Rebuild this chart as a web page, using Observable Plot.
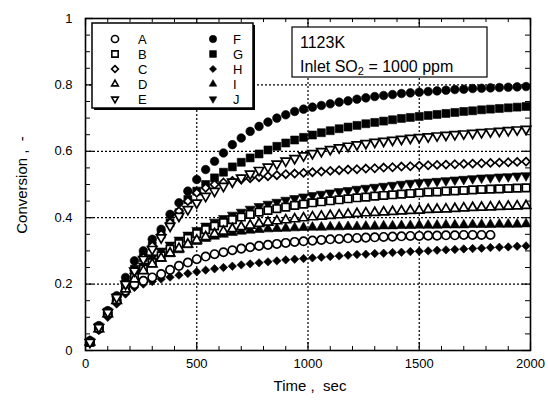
<!DOCTYPE html>
<html><head><meta charset="utf-8">
<script src="https://cdn.jsdelivr.net/npm/d3@7"></script>
<script src="https://cdn.jsdelivr.net/npm/@observablehq/plot@0.6"></script>
<style>
body{margin:0;background:#fff;}
#chart{width:548px;height:405px;}
svg{font-family:"Liberation Sans",Arial,Helvetica,sans-serif;}
</style></head><body><div id="chart"></div>
<script>
// ---- data ----
const times = [20,60,100,140,180,220,260,300,340,380,420,460,500,540,580,620,660,700,740,780,820,860,900,940,980,1020,1060,1100,1140,1180,1220,1260,1300,1340,1380,1420,1460,1500,1540,1580,1620,1660,1700,1740,1780,1820,1860,1900,1940,1980];
const seriesNames = ["A","B","C","D","E","F","G","H","I","J"];
const valuesA = [.025,.065,.11,.15,.18,.2,.21,.22,.23,.243,.255,.265,.275,.283,.29,.296,.302,.307,.311,.315,.318,.321,.324,.327,.329,.331,.333,.335,.336,.338,.339,.34,.341,.342,.343,.344,.345,.345,.346,.346,.347,.347,.348,.348,.348,.348];
const valuesB = [.025,.07,.115,.155,.19,.22,.245,.265,.285,.305,.322,.338,.352,.364,.375,.385,.394,.402,.41,.417,.422,.427,.432,.437,.441,.445,.448,.451,.454,.457,.46,.462,.465,.467,.469,.471,.473,.475,.477,.478,.48,.481,.482,.484,.485,.486,.487,.488,.489,.49];
const valuesC = [.025,.07,.115,.16,.2,.24,.28,.315,.35,.385,.42,.45,.475,.49,.5,.506,.511,.515,.519,.522,.525,.528,.531,.533,.535,.537,.539,.541,.543,.545,.546,.548,.549,.551,.552,.554,.555,.557,.558,.559,.56,.561,.562,.563,.564,.565,.566,.567,.568,.569];
const valuesD = [.025,.065,.11,.15,.185,.215,.24,.26,.278,.293,.307,.32,.332,.342,.351,.359,.366,.372,.377,.382,.386,.39,.393,.396,.399,.402,.404,.406,.408,.41,.412,.414,.415,.417,.418,.42,.421,.422,.424,.425,.426,.427,.429,.43,.431,.432,.433,.434,.435,.436];
const valuesE = [.025,.07,.115,.16,.2,.24,.275,.305,.34,.375,.405,.425,.445,.465,.48,.495,.508,.52,.532,.543,.553,.562,.571,.579,.587,.594,.6,.606,.611,.616,.62,.624,.628,.631,.634,.637,.64,.642,.644,.647,.649,.651,.653,.655,.657,.659,.661,.663,.665,.667];
const valuesF = [.03,.075,.12,.165,.22,.27,.3,.335,.365,.41,.445,.48,.515,.545,.57,.595,.62,.64,.66,.675,.688,.7,.71,.72,.727,.733,.738,.743,.748,.752,.757,.761,.765,.768,.771,.774,.776,.778,.78,.782,.784,.786,.787,.789,.79,.791,.792,.793,.794,.795];
const valuesG = [.025,.07,.115,.16,.2,.245,.28,.315,.35,.385,.415,.455,.48,.5,.52,.537,.553,.567,.58,.592,.604,.615,.625,.634,.642,.649,.656,.662,.668,.673,.678,.683,.687,.691,.695,.699,.702,.705,.708,.711,.714,.717,.72,.722,.725,.727,.729,.731,.733,.735];
const valuesH = [.02,.06,.1,.14,.17,.19,.2,.208,.215,.221,.227,.232,.237,.242,.246,.25,.254,.258,.261,.264,.267,.27,.273,.275,.277,.279,.281,.283,.285,.287,.289,.29,.292,.293,.295,.296,.298,.299,.3,.302,.303,.304,.306,.307,.308,.31,.311,.312,.314,.315];
const valuesI = [.025,.065,.11,.15,.185,.215,.24,.26,.277,.291,.303,.318,.328,.337,.344,.35,.355,.359,.362,.364,.366,.367,.368,.369,.37,.371,.371,.372,.372,.373,.373,.374,.374,.375,.375,.376,.376,.377,.377,.377,.378,.378,.378,.379,.379,.379,.38,.38,.38,.381];
const valuesJ = [.025,.07,.115,.155,.195,.225,.255,.28,.3,.318,.333,.348,.362,.375,.387,.398,.408,.417,.426,.434,.441,.447,.453,.458,.463,.467,.471,.475,.479,.482,.486,.489,.492,.495,.498,.501,.504,.506,.508,.51,.512,.514,.516,.518,.52,.521,.523,.524,.526,.527];
const xTickLabels = [0,500,1000,1500,2000];
const yTickLabels = [0,0.2,0.4,0.6,0.8,1];
const xGrid = [500,1000,1500];
const yGrid = [0.2,0.4,0.6,0.8];
const xMinor = [100,200,300,400,600,700,800,900,1100,1200,1300,1400,1600,1700,1800,1900];
const yMinor = [0.05,0.1,0.15,0.25,0.3,0.35,0.45,0.5,0.55,0.65,0.7,0.75,0.85,0.9,0.95];
const annotationLines = ["1123K", "Inlet SO", "2", " = 1000 ppm"];

// ---- styles ----
const styleOf = {
  A:{symbol:"circle", open:true, r:4.2, rotate:0, legendScale:0.85},
  B:{symbol:"square", open:true, r:4.2, rotate:0, legendScale:0.85},
  C:{symbol:"diamond2", open:true, r:3.6, rotate:0, legendScale:0.85},
  D:{symbol:"triangle", open:true, r:3.5, rotate:0, legendScale:0.7},
  E:{symbol:"triangle", open:true, r:3.5, rotate:180, legendScale:0.7},
  F:{symbol:"circle", open:false, r:4.3, rotate:0, legendScale:0.85},
  G:{symbol:"square", open:false, r:4.5, rotate:0, legendScale:0.85},
  H:{symbol:"diamond2", open:false, r:3.8, rotate:0, legendScale:0.85},
  I:{symbol:"triangle", open:false, r:3.7, rotate:0, legendScale:0.75},
  J:{symbol:"triangle", open:false, r:3.7, rotate:180, legendScale:0.75}
};
const valueLists = {A:valuesA,B:valuesB,C:valuesC,D:valuesD,E:valuesE,F:valuesF,G:valuesG,H:valuesH,I:valuesI,J:valuesJ};

const drawOrder = ["F","G","J","I","H","A","B","C","D","E"];
const dotMarks = drawOrder.map(s => {
  const st = styleOf[s];
  const data = valueLists[s].map((v,i) => ({t: times[i], v, s}));
  return Plot.dot(data, {
    x:"t", y:"v", symbol: () => st.symbol, r: st.r, rotate: st.rotate,
    fill: st.open ? "white" : "black", stroke:"black",
    strokeWidth: st.open ? 1.7 : 0.6
  });
});

const W = 445, H = 332;
const plot = Plot.plot({
  width:548, height:405,
  marginLeft:85, marginRight:18, marginTop:18, marginBottom:55,
  style:{fontFamily:"'Liberation Sans', Arial, sans-serif", background:"white", color:"black"},
  x:{domain:[0,2000]},
  y:{domain:[0,1]},
  symbol:{type:"identity"},
  marks:[
    Plot.ruleX(xGrid, {x:d=>d, stroke:"black", strokeWidth:1.2, strokeDasharray:"2,2"}),
    Plot.ruleY(yGrid, {y:d=>d, stroke:"black", strokeWidth:1.2, strokeDasharray:"2,2"}),
    // minor ticks inside
    Plot.tickX(xMinor, {x:d=>d, insetTop:H-4, stroke:"black", strokeWidth:1}),
    Plot.tickX(xMinor, {x:d=>d, insetBottom:H-4, stroke:"black", strokeWidth:1}),
    Plot.tickY(yMinor, {y:d=>d, insetRight:W-5, stroke:"black", strokeWidth:1}),
    Plot.tickY(yMinor, {y:d=>d, insetLeft:W-5, stroke:"black", strokeWidth:1}),
    // major ticks inside
    Plot.tickX(xTickLabels, {x:d=>d, insetTop:H-8, stroke:"black", strokeWidth:1.2}),
    Plot.tickX(xTickLabels, {x:d=>d, insetBottom:H-8, stroke:"black", strokeWidth:1.2}),
    Plot.tickY(yTickLabels, {y:d=>d, insetRight:W-8, stroke:"black", strokeWidth:1.2}),
    Plot.tickY(yTickLabels, {y:d=>d, insetLeft:W-8, stroke:"black", strokeWidth:1.2}),
    ...dotMarks,
    Plot.frame({stroke:"black", strokeWidth:1.6}),
    Plot.axisX(xTickLabels, {anchor:"bottom", tickSize:0, tickPadding:8, fontSize:13, label:null, tickFormat:d=>String(d)}),
    Plot.axisY(yTickLabels, {anchor:"left", tickSize:0, tickPadding:13, fontSize:13, label:null, tickFormat:d=>String(d)})
  ]
});
document.getElementById("chart").appendChild(plot);

// ---- axis titles, legend and annotation ----
const svg = d3.select(plot);
svg.append("text").attr("x",310).attr("y",391).attr("text-anchor","middle")
  .attr("font-size",15).attr("fill","black").text("Time ,  sec");
svg.append("text").attr("transform","translate(27,185) rotate(-90)").attr("text-anchor","middle")
  .attr("font-size",15).attr("fill","black").text("Conversion ,  -");

// legend box
const lg = svg.append("g");
lg.append("rect").attr("x",94).attr("y",25).attr("width",161).attr("height",85).attr("fill","black");
lg.append("rect").attr("x",92).attr("y",23).attr("width",161).attr("height",85)
  .attr("fill","white").attr("stroke","black").attr("stroke-width",1.5);
const d3sym = {circle:d3.symbolCircle, square:d3.symbolSquare, diamond2:d3.symbolDiamond2, triangle:d3.symbolTriangle};
seriesNames.forEach((s,i) => {
  const st = styleOf[s];
  const col = i < 5 ? 0 : 1, row = i % 5;
  const sx = col ? 213 : 115, tx = col ? 233 : 138, y = 39 + row*15;
  const r = st.r * st.legendScale;
  lg.append("path").attr("d", d3.symbol(d3sym[st.symbol], Math.PI*r*r)())
    .attr("transform", `translate(${sx},${y}) rotate(${st.rotate})`)
    .attr("fill", st.open ? "white" : "black").attr("stroke","black")
    .attr("stroke-width", st.open ? 1.6 : 0.6);
  lg.append("text").attr("x",tx).attr("y",y).attr("dy","0.36em").attr("text-anchor","start")
    .attr("font-size",13).attr("fill","black").text(s);
});

// annotation box
const an = svg.append("g");
an.append("rect").attr("x",292).attr("y",27).attr("width",195).attr("height",50)
  .attr("fill","white").attr("stroke","black").attr("stroke-width",1.2);
an.append("text").attr("x",300).attr("y",48).attr("text-anchor","start")
  .attr("font-size",16).attr("fill","black").text(annotationLines[0]);
const t2 = an.append("text").attr("x",300).attr("y",72).attr("text-anchor","start")
  .attr("font-size",16).attr("fill","black");
t2.append("tspan").text(annotationLines[1]);
t2.append("tspan").attr("font-size",11).attr("dy",3).text(annotationLines[2]);
t2.append("tspan").attr("dy",-3).text(annotationLines[3]);
</script></body></html>
